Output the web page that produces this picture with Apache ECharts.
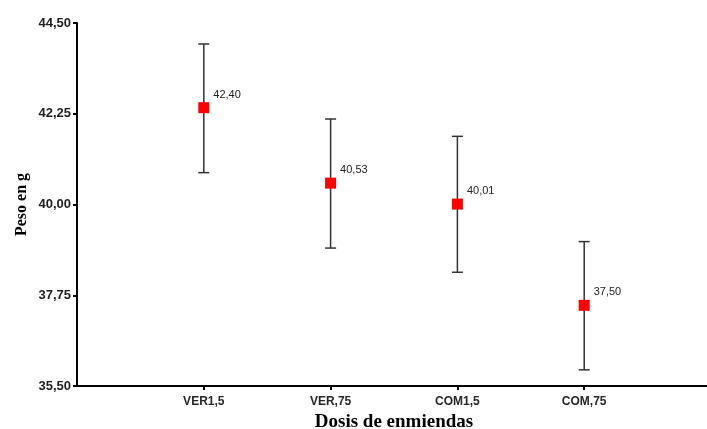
<!DOCTYPE html>
<html>
<head>
<meta charset="utf-8">
<script src="https://cdn.jsdelivr.net/npm/echarts@6/dist/echarts.min.js"></script>
<style>
  html, body { margin: 0; padding: 0; background: #fff; }
  #chart { width: 707px; height: 429px; }
</style>
</head>
<body>
<div id="chart"></div>
<script>
// Treatments along the x axis
const categories = ['VER1,5', 'VER,75', 'COM1,5', 'COM,75'];
// Mean weight per treatment (g)
const means = [42.40, 40.53, 40.01, 37.50];
// Lower and upper ends of the error bars (g)
const lower = [40.79, 38.92, 38.32, 35.90];
const upper = [43.98, 42.12, 41.69, 39.08];
// Y axis tick values
const yTicks = [35.50, 37.75, 40.00, 42.25, 44.50];

const fmt = v => v.toFixed(2).replace('.', ',');
const xPos = categories.map((_, i) => i + 1);

const chart = echarts.init(document.getElementById('chart'), null, { renderer: 'canvas' });

chart.setOption({
  animation: false,
  backgroundColor: '#ffffff',
  grid: { left: 77, top: 23, width: 634, height: 363, containLabel: false, outerBoundsMode: 'none' },
  xAxis: {
    type: 'value',
    min: 0,
    max: 5,
    name: 'Dosis de enmiendas',
    nameLocation: 'middle',
    nameGap: 27,
    nameMoveOverlap: false,
    nameTextStyle: { fontFamily: 'Liberation Serif', fontWeight: 'bold', fontSize: 19, color: '#000' },
    axisLine: { show: true, onZero: false, lineStyle: { color: '#000', width: 2 } },
    axisTick: { show: true, customValues: xPos, length: 4, lineStyle: { color: '#000', width: 2 } },
    axisLabel: {
      customValues: xPos,
      formatter: v => categories[Math.round(v) - 1] || '',
      margin: 10,
      fontFamily: 'Liberation Sans', fontWeight: 'bold', fontSize: 12, color: '#262626'
    },
    splitLine: { show: false }
  },
  yAxis: {
    type: 'value',
    min: 35.5,
    max: 44.5,
    name: 'Peso en g',
    nameLocation: 'middle',
    nameGap: 47,
    nameMoveOverlap: false,
    nameTextStyle: { fontFamily: 'Liberation Serif', fontWeight: 'bold', fontSize: 16, color: '#000' },
    axisLine: { show: true, onZero: false, lineStyle: { color: '#000', width: 2 } },
    axisTick: { show: true, customValues: yTicks, length: 4, lineStyle: { color: '#000', width: 2 } },
    axisLabel: {
      customValues: yTicks,
      formatter: v => fmt(v),
      margin: 6,
      fontFamily: 'Liberation Sans', fontWeight: 'bold', fontSize: 13, color: '#1e1e1e'
    },
    splitLine: { show: false }
  },
  series: [
    {
      // error bars with end caps
      type: 'custom',
      data: categories.map((_, i) => [xPos[i], lower[i], upper[i]]),
      renderItem: (params, api) => {
        const lo = api.coord([api.value(0), api.value(1)]);
        const hi = api.coord([api.value(0), api.value(2)]);
        const cap = 5.5;
        const style = { stroke: '#333333', lineWidth: 1.5 };
        return {
          type: 'group',
          children: [
            { type: 'line', shape: { x1: hi[0], y1: hi[1], x2: lo[0], y2: lo[1] }, style },
            { type: 'line', shape: { x1: hi[0] - cap, y1: hi[1], x2: hi[0] + cap, y2: hi[1] }, style },
            { type: 'line', shape: { x1: lo[0] - cap, y1: lo[1], x2: lo[0] + cap, y2: lo[1] }, style }
          ]
        };
      },
      z: 2
    },
    {
      type: 'scatter',
      symbol: 'rect',
      symbolSize: 11,
      itemStyle: { color: '#ff0000', opacity: 1 },
      data: means.map((m, i) => [xPos[i], m]),
      label: {
        show: true,
        position: 'right',
        offset: [-1, -13],
        formatter: p => fmt(p.value[1]),
        fontFamily: 'Liberation Sans',
        fontSize: 11,
        color: '#222'
      },
      z: 3
    }
  ]
});
</script>
</body>
</html>
